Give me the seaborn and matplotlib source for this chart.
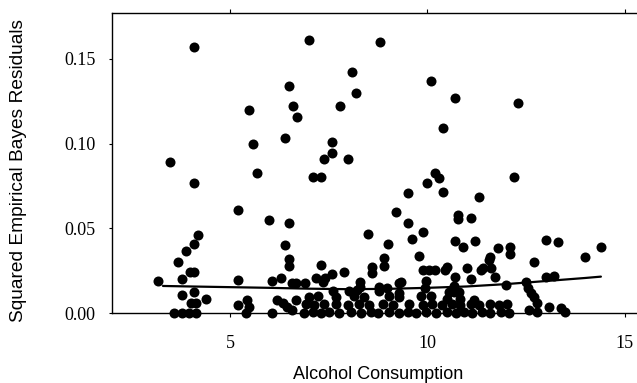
import matplotlib
matplotlib.use("Agg")
import matplotlib.pyplot as plt
import seaborn as sns
import pandas as pd

# ---- data ----
alcohol = [
    4.09, 6.99, 3.49, 5.48, 5.59, 6.39, 6.50, 6.60, 6.69, 7.58, 7.58, 7.39, 8.00, 7.79, 8.09, 8.18, 8.79, 10.10, 10.70, 12.30, 10.40,
    4.09, 5.69, 7.10, 7.30, 5.20, 5.99, 6.49, 6.39, 6.49, 6.49, 7.30, 7.89, 7.59, 7.41, 7.17, 4.20, 4.09, 3.88, 3.69, 3.99, 4.09, 3.18, 3.79,
    10.20, 10.30, 12.20, 9.99, 9.50, 10.40, 11.30, 9.20, 10.79, 10.79, 11.10, 9.50, 8.49, 9.90, 9.60, 9.00, 10.70, 10.91, 11.20, 11.80,
    12.10, 12.10, 13.00, 13.30, 14.00, 14.40, 11.60, 12.71, 9.79, 8.89, 8.89, 8.59, 8.59, 9.89, 10.04, 10.20, 10.50, 11.00, 11.40, 11.61,
    10.70, 11.10, 11.71, 13.00, 13.21, 12.00, 12.50, 12.56, 12.62, 12.71, 12.79, 12.58, 12.79, 13.09, 13.38, 13.49, 8.29, 8.29, 8.78, 8.99,
    9.28, 9.28, 9.94, 10.68, 10.68, 11.56,
    3.79, 4.09, 4.38, 4.00, 4.13, 3.58, 3.79, 3.96, 4.13, 5.19, 5.19, 5.44, 5.48, 5.40, 6.07, 6.28, 6.20, 6.33, 6.45, 6.58, 6.66, 6.07,
    6.58, 6.68, 6.89,
    6.88, 7.09, 7.30, 7.51, 7.77, 8.06, 8.32, 8.57, 8.74, 9.04, 9.29, 9.50, 9.71, 9.96, 10.22, 10.50, 10.72, 10.93, 11.14, 11.39, 11.60,
    11.86, 12.07,
    6.92, 7.13, 7.39, 7.68, 7.98, 8.27, 8.53, 8.87, 9.12, 9.54, 9.88, 10.12, 10.38, 10.63, 10.84, 11.10, 11.31, 11.60, 11.81, 12.03,
    7.01, 7.22, 7.68, 8.15, 8.40, 9.04, 9.29, 9.84, 10.09, 10.50, 10.84, 11.18,
    7.60, 8.02, 8.23, 8.78, 10.55, 10.80,
    7.35, 9.33, 9.96,
    10.46, 11.35,
]
sq_resid = [
    0.157, 0.161, 0.089, 0.120, 0.0997, 0.103, 0.134, 0.122, 0.1156, 0.101, 0.0944, 0.091, 0.0907, 0.1223, 0.1423, 0.130, 0.160, 0.137, 0.127, 0.1239, 0.1093,
    0.0767, 0.0828, 0.080, 0.080, 0.0608, 0.0548, 0.0532, 0.0404, 0.0322, 0.0279, 0.0284, 0.0243, 0.023, 0.021, 0.0206, 0.0463, 0.041, 0.0367, 0.0304, 0.0243, 0.0243, 0.0188, 0.020,
    0.0828, 0.0795, 0.080, 0.0766, 0.0710, 0.0713, 0.0685, 0.0597, 0.0579, 0.0553, 0.0563, 0.0534, 0.0465, 0.048, 0.0438, 0.041, 0.0428, 0.039, 0.0428, 0.0387,
    0.0389, 0.035, 0.0432, 0.0422, 0.0333, 0.0389, 0.0333, 0.0304, 0.0339, 0.0324, 0.0279, 0.0274, 0.0235, 0.0255, 0.0255, 0.0255, 0.0271, 0.0265, 0.0265, 0.0265,
    0.0216, 0.020, 0.0212, 0.0212, 0.0221, 0.0167, 0.0186, 0.0147, 0.0121, 0.0098, 0.0059, 0.002, 0.001, 0.0039, 0.003, 0.001, 0.0186, 0.0157, 0.0157, 0.0147,
    0.0177, 0.0118, 0.0147, 0.0161, 0.0127, 0.0314,
    0.0108, 0.0123, 0.0085, 0.006, 0.006, 0.0, 0.0, 0.0, 0.0, 0.0195, 0.0049, 0.008, 0.004, 0.0, 0.019, 0.021, 0.0078, 0.006, 0.004, 0.002, 0.008, 0.0,
    0.018, 0.018, 0.018,
    0.0, 0.0005, 0.0, 0.001, 0.0, 0.0005, 0.0, 0.001, 0.0, 0.0005, 0.0, 0.001, 0.0, 0.0005, 0.0, 0.001, 0.0, 0.0005, 0.0, 0.001, 0.0,
    0.0005, 0.0,
    0.0053, 0.0050, 0.0056, 0.0052, 0.0049, 0.0055, 0.0051, 0.0053, 0.0048, 0.0054, 0.0050, 0.0053, 0.0049, 0.0055, 0.0051, 0.0052, 0.0050, 0.0054, 0.0049, 0.0052,
    0.0098, 0.0102, 0.0095, 0.0100, 0.0097, 0.0101, 0.0096, 0.0099, 0.0103, 0.0082, 0.0085, 0.0080,
    0.0133, 0.0130, 0.0136, 0.0131, 0.0125, 0.0128,
    0.0186, 0.0184, 0.0188,
    0.0255, 0.0255,
]

# smooth curve
smooth_x = [3.3, 4.0, 5.0, 6.0, 7.0, 8.0, 9.0, 10.0, 11.0, 12.0, 13.0, 14.0, 14.4]
smooth_y = [0.0161, 0.0158, 0.0154, 0.0150, 0.0145, 0.0142, 0.0144, 0.0150, 0.0158, 0.0172, 0.0190, 0.0208, 0.0216]

x_ticks = [5, 10, 15]
x_tick_labels = ["5", "10", "15"]
y_ticks = [0.00, 0.05, 0.10, 0.15]
y_tick_labels = ["0.00", "0.05", "0.10", "0.15"]

x_label = "Alcohol Consumption"
y_label = "Squared Empirical Bayes Residuals"

# ---- figure ----
sns.set_style("ticks")
plt.rcParams["font.family"] = ["Liberation Sans", "DejaVu Sans"]

W, H = 637, 383
fig = plt.figure(figsize=(W / 100, H / 100), dpi=100)
ax_left, ax_bottom = 111.7 / W, (H - 313.3) / H
ax_w, ax_h = 532.6 / W, 300.0 / H
ax = fig.add_axes([ax_left, ax_bottom, ax_w, ax_h])

points = pd.DataFrame({"alcohol": alcohol, "resid": sq_resid})
sns.scatterplot(data=points, x="alcohol", y="resid", color="black", s=52,
                linewidth=0, clip_on=False, ax=ax, zorder=3)
sns.lineplot(x=smooth_x, y=smooth_y, color="black", lw=1.6, ax=ax,
             estimator=None, sort=True, zorder=4)

ax.set_xlim(2.0, 15.5)
ax.set_ylim(0.0, 0.1767)
ax.set_xticks(x_ticks)
ax.set_xticklabels(x_tick_labels)
ax.set_yticks(y_ticks)
ax.set_yticklabels(y_tick_labels)

serif = ["Liberation Serif", "DejaVu Serif"]
for lab in ax.get_xticklabels() + ax.get_yticklabels():
    lab.set_family(serif)
    lab.set_fontsize(13)
    lab.set_color("black")

ax.tick_params(axis="x", which="both", direction="out", length=3, width=0.8,
               pad=12.5, top=True, bottom=True, color="black")
ax.tick_params(axis="y", which="both", direction="out", length=2.5, width=0.8,
               pad=9, left=True, right=False, color="black")

for side in ["left", "top", "bottom"]:
    ax.spines[side].set_visible(True)
    ax.spines[side].set_linewidth(1.0)
    ax.spines[side].set_color("black")
ax.spines["right"].set_visible(False)

ax.set_xlabel("")
ax.set_ylabel("")
fig.text(378 / W, (H - 374.5) / H, x_label, ha="center", va="center",
         fontsize=13, color="black")
fig.text(18.5 / W, (H - 170.5) / H, y_label, ha="center", va="center",
         rotation=90, fontsize=13.8, color="black")

fig.savefig("out.png", dpi=100)
